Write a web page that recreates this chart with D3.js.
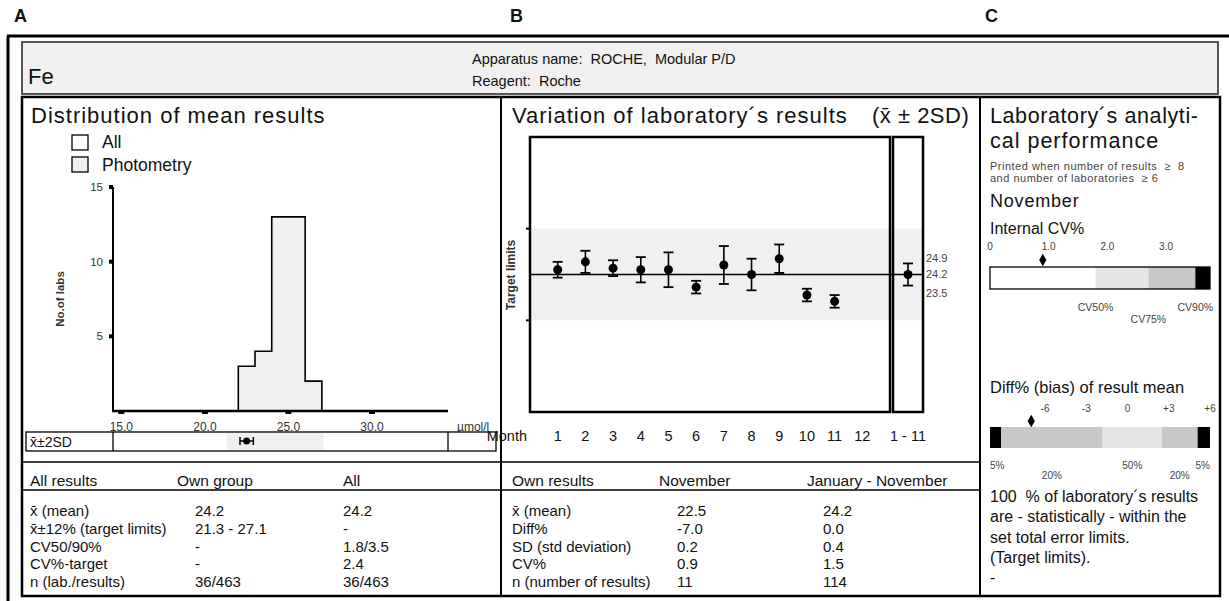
<!DOCTYPE html>
<html lang="en">
<head>
<meta charset="UTF-8">
<title>Fe - laboratory report</title>
<script src="https://d3js.org/d3.v7.min.js"></script>
<style>
  body { margin: 0; background: #fff; }
  svg text { font-family: "Liberation Sans", Arial, sans-serif; fill: #111; white-space: pre; }
</style>
</head>
<body>
<svg width="1229" height="601"></svg>
<script>
// ---- data ----
const panelLetters = ["A", "B", "C"];
const analyte = "Fe";
const headerLines = ["Apparatus name:  ROCHE,  Modular P/D", "Reagent:  Roche"];

// histogram of lab means (umol/l)
const binEdges = [22, 23, 24, 25, 26, 27];
const binCounts = [3, 4, 13, 13, 2];
const histXTicks = [15, 20, 25, 30];
const histYTicks = [5, 10, 15];
const legendItems = ["All", "Photometry"];

// own lab: mean +- 2SD per month
const months = [1, 2, 3, 4, 5, 6, 7, 8, 9, 10, 11];
const monthMeans = [24.5, 25.0, 24.6, 24.5, 24.5, 23.4, 24.8, 24.2, 25.2, 22.9, 22.5];
const month2SD = [0.5, 0.7, 0.5, 0.8, 1.1, 0.4, 1.2, 1.0, 0.9, 0.4, 0.4];
const monthLabels = ["1", "2", "3", "4", "5", "6", "7", "8", "9", "10", "11", "12"];
const cumLabel = "1 - 11";
const cumMean = 24.2, cum2SD = 0.7;
const cumLabels = ["24.9", "24.2", "23.5"];
const targetLimits = [21.3, 27.1];
const novMean = 22.5, nov2SD = 0.4;

// analytical performance
const cvTicks = [0, 1, 2, 3];
const cvBands = [0, 1.8, 2.7, 3.5, 3.75];
const cvNames = ["CV50%", "CV75%", "CV90%"];
const cvValue = 0.9;
const diffTicks = [-6, -3, 0, 3, 6];
const diffTickLabels = ["-6", "-3", "0", "+3", "+6"];
const diffBands = [-10, -9.2, -1.8, 2.5, 5.1, 6];
const diffPct = ["5%", "20%", "50%", "20%", "5%"];
const diffValue = -7.0;
const perfText = ["100  % of laboratory\u00b4s results", "are - statistically - within the",
  "set total error limits.", "(Target limits).", "-"];

// tables
const leftHead = ["All results", "Own group", "All"];
const leftRows = [
  ["x\u0304 (mean)", "24.2", "24.2"],
  ["x\u0304\u00b112% (target limits)", "21.3 - 27.1", "-"],
  ["CV50/90%", "-", "1.8/3.5"],
  ["CV%-target", "-", "2.4"],
  ["n (lab./results)", "36/463", "36/463"]
];
const midHead = ["Own results", "November", "January - November"];
const midRows = [
  ["x\u0304 (mean)", "22.5", "24.2"],
  ["Diff%", "-7.0", "0.0"],
  ["SD (std deviation)", "0.2", "0.4"],
  ["CV%", "0.9", "1.5"],
  ["n (number of results)", "11", "114"]
];

const svg = d3.select("svg");

function txt(g, x, y, s, size, opts) {
  opts = opts || {};
  return g.append("text").attr("x", x).attr("y", y).text(s)
    .attr("font-size", size)
    .attr("font-weight", opts.bold ? "bold" : null)
    .attr("text-anchor", opts.anchor || "start")
    .attr("letter-spacing", opts.ls || null)
    .style("fill", opts.fill || "#111");
}
function line(g, x1, y1, x2, y2, w) {
  return g.append("line").attr("x1", x1).attr("y1", y1).attr("x2", x2).attr("y2", y2)
    .attr("stroke", "#000").attr("stroke-width", w || 1.5);
}

// ---- frame ----
const frame = svg.append("g");
[14, 510, 985].forEach((x, i) => txt(frame, x, 22, panelLetters[i], 18, {bold: true}));
line(frame, 7, 36, 1229, 36, 3);
line(frame, 8, 36, 8, 601, 3);

frame.append("rect").attr("x", 22).attr("y", 42).attr("width", 1196).attr("height", 52)
  .attr("fill", "#f0f0f0").attr("stroke", "#222").attr("stroke-width", 1.5);
txt(frame, 28, 84, analyte, 22);
headerLines.forEach((s, i) => txt(frame, 472, 64 + i * 22, s, 14.5));

frame.append("rect").attr("x", 22).attr("y", 97).attr("width", 1198).attr("height", 499)
  .attr("fill", "#fff").attr("stroke", "#000").attr("stroke-width", 2.5);
line(frame, 501, 97, 501, 596, 2);
line(frame, 980, 97, 980, 596, 2);
line(frame, 22, 462, 980, 462, 1.5);
line(frame, 22, 490, 980, 490, 1.5);

// ---- A: histogram ----
const A = svg.append("g");
txt(A, 31, 123, "Distribution of mean results", 22, {ls: 1});
legendItems.forEach((s, i) => {
  A.append("rect").attr("x", 72).attr("y", 135 + i * 22).attr("width", 16).attr("height", 15)
    .attr("fill", i === 0 ? "#fff" : "#f0f0f0").attr("stroke", "#000").attr("stroke-width", 1.3);
  txt(A, 102, 148 + i * 23, s, 17.5);
});

const hx = d3.scaleLinear().domain([14.5, 34.55]).range([113, 448]);
const hy = d3.scaleLinear().domain([0, 15]).range([411, 187]);

const steps = binCounts.map((c, i) => ({x: binEdges[i], y: c}));
steps.push({x: binEdges[binEdges.length - 1], y: 0});
steps.unshift({x: binEdges[0], y: 0});
const histArea = d3.area().curve(d3.curveStepAfter)
  .x(d => hx(d.x)).y0(hy(0)).y1(d => hy(d.y));
const histLine = d3.line().curve(d3.curveStepAfter).x(d => hx(d.x)).y(d => hy(d.y));
A.append("path").attr("d", histArea(steps.slice(1))).attr("fill", "#f0f0f0");
A.append("path").attr("d", histLine(steps)).attr("fill", "none").attr("stroke", "#000").attr("stroke-width", 1.6);

line(A, 113, hy(15), 113, hy(0), 2);
line(A, 112, hy(0), 448, hy(0), 2.5);
histYTicks.forEach(v => {
  A.append("rect").attr("x", 109).attr("y", hy(v) - 2).attr("width", 4).attr("height", 4).attr("fill", "#000");
  txt(A, 103, hy(v) + 4, v, 11.5, {anchor: "end", fill: "#333"});
});
histXTicks.forEach(v => {
  A.append("rect").attr("x", hx(v) - 3).attr("y", hy(0)).attr("width", 6).attr("height", 3).attr("fill", "#000");
  txt(A, hx(v), 431, d3.format(".1f")(v), 12, {anchor: "middle", fill: "#333"});
});
txt(A, 0, 0, "No.of labs", 11.5, {bold: true, anchor: "middle", fill: "#333"})
  .attr("transform", "translate(64,299) rotate(-90)");
txt(A, 457, 431, "\u00b5mol/l", 12, {fill: "#333"});

// x +- 2SD strip
A.append("rect").attr("x", 26).attr("y", 432).attr("width", 470).attr("height", 19)
  .attr("fill", "#fff").attr("stroke", "#000").attr("stroke-width", 1.3);
A.append("rect").attr("x", hx(targetLimits[0])).attr("y", 433).attr("width", hx(targetLimits[1]) - hx(targetLimits[0]))
  .attr("height", 17).attr("fill", "#f0f0f0");
line(A, 113, 432, 113, 451, 1.3);
line(A, 448, 432, 448, 451, 1.3);
txt(A, 30, 447, "x\u0304\u00b12SD", 14);
line(A, hx(novMean - nov2SD), 441, hx(novMean + nov2SD), 441, 1.5);
[novMean - nov2SD, novMean + nov2SD].forEach(v => line(A, hx(v), 437, hx(v), 445, 1.5));
A.append("circle").attr("cx", hx(novMean)).attr("cy", 441).attr("r", 3.5).attr("fill", "#000");

// ---- B: variation per month ----
const B = svg.append("g");
txt(B, 512, 123, "Variation of laboratory\u00b4s results", 22, {ls: 1});
txt(B, 872, 123, "(x\u0304 \u00b1 2SD)", 22, {ls: 0.5});

const mx = d3.scaleLinear().domain([0, 13]).range([530, 890]);
const cumX = 908;
const my = d3.scaleLinear().domain([15.5, 32.9]).range([412, 137]);

B.append("rect").attr("x", 530).attr("y", my(targetLimits[1])).attr("width", 393)
  .attr("height", my(targetLimits[0]) - my(targetLimits[1])).attr("fill", "#f0f0f0");
line(B, 530, my(cumMean), 923, my(cumMean), 1.5);
targetLimits.forEach(v => line(B, 526, my(v), 530, my(v), 2));

B.append("rect").attr("x", 530).attr("y", 137).attr("width", 360).attr("height", 275)
  .attr("fill", "none").attr("stroke", "#000").attr("stroke-width", 2.5);
B.append("rect").attr("x", 893).attr("y", 137).attr("width", 30).attr("height", 275)
  .attr("fill", "none").attr("stroke", "#000").attr("stroke-width", 2.5);

const pts = months.map((m, i) => ({x: mx(m), mean: monthMeans[i], sd2: month2SD[i]}));
pts.push({x: cumX, mean: cumMean, sd2: cum2SD});
const eb = B.selectAll("g.eb").data(pts).enter().append("g").attr("class", "eb");
eb.append("line").attr("x1", d => d.x).attr("x2", d => d.x)
  .attr("y1", d => my(d.mean + d.sd2)).attr("y2", d => my(d.mean - d.sd2))
  .attr("stroke", "#000").attr("stroke-width", 1.6);
eb.each(function (d) {
  const g = d3.select(this);
  [d.mean + d.sd2, d.mean - d.sd2].forEach(v => line(g, d.x - 5, my(v), d.x + 5, my(v), 1.8));
});
eb.append("circle").attr("cx", d => d.x).attr("cy", d => my(d.mean)).attr("r", 4.5).attr("fill", "#000");

cumLabels.forEach((s, i) => txt(B, 926, [262, 278, 297][i], s, 11, {fill: "#444"}));
txt(B, 0, 0, "Target limits", 12, {bold: true, anchor: "middle", fill: "#333"})
  .attr("transform", "translate(515,275) rotate(-90)");
monthLabels.forEach((s, i) => txt(B, mx(i + 1), 441, s, 14.5, {anchor: "middle"}));
txt(B, cumX, 441, cumLabel, 14.5, {anchor: "middle"});
txt(B, 527, 441, "Month", 14.5, {anchor: "end"});

// ---- C: analytical performance ----
const C = svg.append("g");
txt(C, 990, 123, "Laboratory\u00b4s analyti-", 21.5, {ls: 0.6});
txt(C, 990, 148, "cal performance", 21.5, {ls: 1});
txt(C, 990, 170, "Printed when number of results  \u2265  8", 11, {fill: "#444", ls: 0.5});
txt(C, 990, 182, "and number of laboratories  \u2265 6", 11, {fill: "#444", ls: 0.5});
txt(C, 990, 207, "November", 18, {ls: 0.8});
txt(C, 990, 234, "Internal CV%", 16);

const cx = d3.scaleLinear().domain([0, 3.75]).range([990, 1210]);
cvTicks.forEach(v => txt(C, cx(v), 250, v === 0 ? "0" : d3.format(".1f")(v), 10, {anchor: "middle", fill: "#444"}));
const cvFill = ["#fff", "#e6e6e6", "#c8c8c8", "#000"];
C.selectAll("rect.cv").data(d3.pairs(cvBands)).enter().append("rect").attr("class", "cv")
  .attr("x", d => cx(d[0])).attr("y", 267).attr("width", d => cx(d[1]) - cx(d[0])).attr("height", 22)
  .attr("fill", (d, i) => cvFill[i]);
C.append("rect").attr("x", 990).attr("y", 267).attr("width", 220).attr("height", 22)
  .attr("fill", "none").attr("stroke", "#000").attr("stroke-width", 1.3);
C.append("path").attr("d", d3.symbol(d3.symbolDiamond, 45)())
  .attr("transform", `translate(${cx(cvValue)},260)`).attr("fill", "#000");
cvNames.forEach((s, i) => txt(C, cx(cvBands[i + 1]), i === 1 ? 323 : 311, s, 10.5, {anchor: "middle", fill: "#444"}));

txt(C, 990, 393, "Diff% (bias) of result mean", 16.5);
const dx = d3.scaleLinear().domain([-10, 6]).range([990, 1210]);
diffTicks.forEach((v, i) => txt(C, dx(v), 412, diffTickLabels[i], 10, {anchor: "middle", fill: "#444"}));
const diffFill = ["#000", "#c8c8c8", "#e6e6e6", "#c8c8c8", "#000"];
C.selectAll("rect.df").data(d3.pairs(diffBands)).enter().append("rect").attr("class", "df")
  .attr("x", d => dx(d[0])).attr("y", 427).attr("width", d => dx(d[1]) - dx(d[0])).attr("height", 21)
  .attr("fill", (d, i) => diffFill[i]);
C.append("path").attr("d", d3.symbol(d3.symbolDiamond, 45)())
  .attr("transform", `translate(${dx(diffValue)},421)`).attr("fill", "#000");
d3.pairs(diffBands).forEach((d, i) => {
  const last = i === diffPct.length - 1;
  const x = i === 0 ? dx(d[0]) : last ? dx(d[1]) : (dx(d[0]) + dx(d[1])) / 2;
  txt(C, x, i % 2 ? 479 : 469, diffPct[i], 10, {anchor: i === 0 ? "start" : last ? "end" : "middle", fill: "#444"});
});
perfText.forEach((s, i) => txt(C, 990, 502 + i * 20.3, s, 16));

// ---- tables ----
const T = svg.append("g");
function table(x0, cols, head, rows) {
  txt(T, x0, 486, head[0], 15.5);
  txt(T, cols[0] - 18, 486, head[1], 15.5);
  txt(T, cols[1] - (head[2].length > 5 ? 16 : 0), 486, head[2], 15.5);
  rows.forEach((r, i) => {
    const y = 516 + i * 17.8;
    txt(T, x0, y, r[0], 15);
    txt(T, cols[0], y, r[1], 15);
    txt(T, cols[1], y, r[2], 15);
  });
}
table(30, [195, 343], leftHead, leftRows);
table(512, [677, 823], midHead, midRows);
</script>
</body>
</html>
